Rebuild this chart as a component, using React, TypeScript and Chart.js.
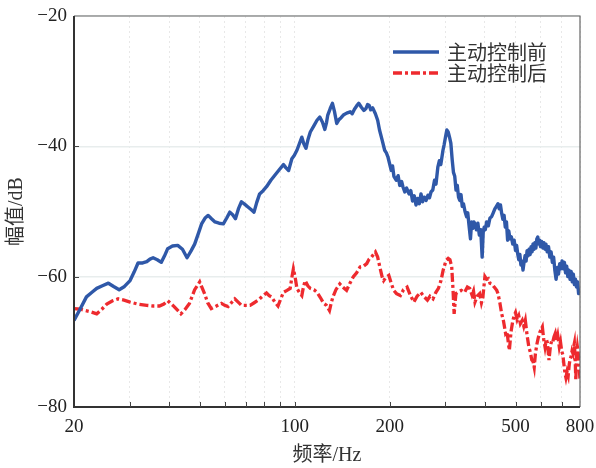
import React, { useEffect, useRef } from "react";
import { Chart, registerables } from "chart.js";

Chart.register(...registerables);

const seriesLabels = ["主动控制前", "主动控制后"];

const freqBefore = [
  20, 20.8, 21.9, 22.8, 23.6, 24.6, 25.7, 26.7, 27.8, 28.9, 30.1, 31.0, 31.9, 33.0, 34.0, 34.8, 35.6, 36.7, 37.8, 38.7,
  39.6, 41.0, 42.6, 44.1, 45.6, 47.0, 48.2, 49.5, 50.7, 52.0, 53.2, 54.5, 55.9, 57.6, 59.4, 60.9, 62.3, 63.6, 64.9, 66.3,
  67.8, 69.5, 71.1, 72.7, 74.3, 75.8, 77.4, 79.4, 81.4, 84.0, 86.6, 89.3, 92.1, 93.8, 95.6, 97.9, 99.6, 101.6, 103.4, 105.3,
  106.8, 108.5, 110.2, 112.0, 114.8, 117.6, 120.0, 122.4, 124.5, 126.0, 127.2, 129.5, 131.6, 133.5, 135.8, 138.0, 140.2, 142.5, 146.0, 149.8,
  152.0, 154.5, 157.0, 159.4, 162.5, 165.5, 168.0, 170.0, 172.0, 174.0, 176.5, 180.0, 183.0, 185.5, 189.0, 192.6, 195.0, 197.2, 199.5, 202.0,
  204.0, 206.0, 209.5, 212.5, 215.0, 218.0, 220.0, 223.0, 226.0, 230.0, 233.0, 236.0, 239.0, 242.0, 245.0, 248.0, 251.0, 254.0, 257.0, 260.5,
  264.0, 267.0, 270.0, 273.5, 277.0, 280.0, 283.8, 287.0, 290.0, 294.6, 297.0, 300.0, 303.0, 306.0, 309.0, 312.0, 315.0, 318.0, 321.0, 324.0,
  327.0, 330.0, 333.0, 336.0, 339.0, 342.0, 346.0, 350.0, 353.0, 356.0, 360.0, 363.0, 366.0, 369.0, 372.0, 376.0, 380.0, 384.0, 388.0, 392.0,
  395.0, 398.0, 401.0, 405.0, 410.0, 415.0, 420.0, 425.0, 430.0, 435.0, 440.0, 444.0, 448.0, 452.0, 456.0, 460.0, 464.0, 468.0, 472.0, 476.0,
  480.0, 485.0, 490.0, 495.0, 500.0, 504.0, 508.0, 512.0, 516.0, 520.0, 524.0, 528.0, 532.0, 536.0, 540.0, 544.0, 548.0, 552.0, 556.0, 560.0,
  564.0, 568.0, 572.0, 576.0, 580.0, 584.0, 588.0, 592.0, 596.0, 600.0, 605.0, 610.0, 615.0, 620.0, 624.0, 630.0, 636.0, 642.0, 648.0, 654.0,
  660.0, 666.0, 672.0, 678.0, 684.0, 690.0, 696.0, 702.0, 708.0, 714.0, 720.0, 726.0, 732.0, 738.0, 744.0, 750.0, 756.0, 762.0, 768.0, 774.0,
  780.0, 786.0, 792.0, 800.0,
];
const dbBefore = [
  -66.7, -65.2, -63.1, -62.4, -61.8, -61.4, -61.0, -61.5, -62.0, -61.5, -60.6, -59.3, -57.9, -57.9, -57.7, -57.3, -57.1, -57.4, -57.8, -56.8,
  -55.7, -55.3, -55.2, -55.8, -57.1, -56.0, -55.0, -53.4, -51.9, -51.0, -50.6, -51.1, -51.6, -51.8, -51.9, -51.0, -50.1, -50.5, -51.1, -49.6,
  -48.5, -48.9, -49.3, -49.7, -50.1, -48.6, -47.3, -46.8, -46.2, -45.2, -44.4, -43.6, -42.8, -43.3, -43.7, -41.9, -41.4, -40.6, -39.6, -38.6,
  -39.6, -40.3, -38.9, -37.8, -36.9, -36.0, -35.5, -36.3, -37.4, -36.4, -35.2, -34.2, -33.4, -34.6, -36.5, -35.9, -35.6, -35.2, -34.9, -34.7,
  -35.0, -34.3, -33.8, -33.4, -34.0, -34.5, -34.2, -33.6, -33.7, -34.4, -34.1, -35.0, -36.0, -37.5, -39.0, -40.6, -41.0, -41.6, -42.6, -43.7,
  -43.0, -44.6, -45.2, -44.5, -46.0, -45.4, -46.2, -47.0, -46.4, -47.3, -46.8, -48.4, -47.6, -49.0, -48.0, -48.8, -47.3, -48.5, -47.8, -48.3,
  -47.5, -47.9, -47.0, -46.7, -45.2, -45.8, -43.2, -42.2, -42.8, -40.6, -39.8, -38.6, -37.5, -37.8, -38.6, -39.5, -42.0, -44.0, -44.6, -46.7,
  -46.0, -47.8, -48.3, -47.4, -49.2, -48.8, -50.0, -50.8, -50.2, -52.0, -54.2, -51.6, -52.6, -51.6, -51.9, -52.8, -51.8, -53.6, -52.8, -57.0,
  -53.2, -52.4, -52.8, -51.6, -52.2, -51.0, -50.8, -50.2, -49.6, -49.2, -48.8, -49.6, -49.0, -50.3, -51.2, -50.6, -52.4, -51.6, -54.4, -53.0,
  -54.2, -53.9, -55.0, -54.4, -56.0, -55.2, -56.5, -57.4, -56.6, -58.2, -57.6, -59.0, -57.8, -56.8, -57.6, -56.0, -56.8, -55.8, -56.6, -55.4,
  -56.2, -55.0, -55.8, -54.8, -55.6, -54.2, -53.9, -55.0, -54.4, -55.4, -54.6, -55.6, -54.8, -55.8, -55.0, -56.2, -55.4, -57.0, -56.2, -57.8,
  -57.0, -59.0, -60.4, -58.6, -59.6, -58.0, -58.8, -57.6, -58.8, -57.8, -59.4, -58.4, -60.0, -59.0, -60.4, -59.2, -60.8, -59.6, -61.2, -60.4,
  -61.6, -60.8, -62.6, -61.8,
];

const freqAfter = [
  20, 21.0, 21.7, 22.6, 23.6, 24.5, 25.4, 26.5, 27.6, 28.8, 30.1, 31.8, 34.0, 35.6, 37.3, 38.5, 39.6, 41.5, 43.6, 45.0,
  46.4, 48.2, 50.0, 51.8, 53.0, 54.4, 56.5, 58.6, 60.0, 61.5, 63.0, 64.6, 66.2, 67.8, 70.0, 72.2, 74.4, 76.6, 79.0, 81.4,
  83.0, 84.4, 86.5, 88.5, 90.3, 92.1, 94.5, 96.7, 98.0, 99.0, 100.2, 101.6, 103.4, 105.3, 106.5, 107.9, 110.0, 112.0, 115.0, 117.6,
  120.5, 123.5, 126.0, 128.8, 130.5, 132.1, 135.0, 138.9, 142.0, 145.9, 149.5, 153.3, 157.0, 161.0, 165.0, 169.0, 172.0, 175.0, 180.0, 183.0,
  186.5, 189.0, 191.2, 194.5, 198.5, 202.0, 205.7, 210.0, 216.0, 221.0, 226.8, 232.0, 238.3, 244.0, 250.4, 256.0, 263.0, 268.0, 274.0, 279.8,
  285.0, 290.4, 295.0, 301.4, 306.0, 310.0, 314.0, 317.0, 319.6, 323.7, 330.0, 337.0, 345.0, 352.0, 358.0, 364.0, 368.0, 372.0, 378.0, 385.0,
  390.0, 394.0, 400.0, 405.0, 410.0, 415.0, 420.0, 428.0, 436.0, 440.0, 446.0, 452.0, 458.0, 465.0, 470.0, 474.0, 478.0, 484.0, 490.0, 495.0,
  500.0, 506.0, 512.0, 518.0, 525.0, 531.0, 537.0, 544.0, 551.0, 557.0, 563.0, 568.0, 573.0, 578.0, 584.0, 590.0, 596.0, 601.0, 608.0, 614.0,
  620.0, 626.0, 631.0, 638.0, 645.0, 651.0, 656.0, 662.0, 668.0, 674.0, 680.0, 688.0, 694.0, 700.0, 706.0, 712.0, 717.0, 722.0, 728.0, 734.0,
  740.0, 745.0, 749.0, 755.0, 760.0, 765.0, 768.0, 772.0, 776.0, 780.0, 785.0, 790.0, 795.0, 800.0,
];
const dbAfter = [
  -64.9, -65.0, -65.2, -65.4, -65.7, -65.0, -64.2, -63.7, -63.4, -63.6, -63.9, -64.2, -64.4, -64.5, -64.5, -64.2, -63.7, -64.6, -65.7, -65.0,
  -64.1, -62.0, -60.8, -62.6, -64.0, -64.9, -64.5, -64.1, -64.4, -64.6, -64.0, -63.4, -63.9, -64.4, -64.4, -64.4, -64.0, -63.6, -63.0, -62.5,
  -62.9, -63.1, -63.9, -64.5, -63.4, -62.4, -62.1, -61.8, -60.0, -58.8, -60.0, -61.8, -62.4, -62.9, -61.6, -60.6, -61.4, -61.8, -62.0, -62.4,
  -63.2, -64.1, -64.4, -65.2, -64.0, -63.1, -62.0, -61.1, -61.6, -62.1, -61.0, -60.0, -59.4, -58.5, -58.4, -58.0, -57.3, -57.0, -56.2, -57.0,
  -58.8, -60.0, -60.6, -60.1, -59.8, -61.0, -62.1, -62.6, -62.9, -62.0, -61.6, -62.8, -63.9, -63.0, -62.4, -63.0, -63.6, -63.0, -63.4, -62.4,
  -61.8, -60.6, -59.0, -57.5, -57.2, -57.4, -58.5, -62.0, -65.7, -62.6, -62.3, -62.1, -62.4, -61.6, -61.8, -62.8, -62.2, -63.9, -63.0, -62.6,
  -64.0, -63.2, -60.0, -60.4, -60.3, -61.0, -61.1, -61.6, -62.1, -62.6, -64.0, -65.7, -66.8, -68.7, -68.4, -70.0, -71.3, -68.4, -66.8, -66.0,
  -65.5, -66.6, -66.0, -67.2, -66.7, -67.6, -66.7, -69.0, -70.8, -71.6, -72.8, -73.0, -73.9, -71.8, -70.4, -69.4, -68.6, -68.2, -67.7, -69.6,
  -70.8, -69.6, -70.2, -72.8, -70.6, -69.8, -70.0, -69.2, -68.7, -69.8, -69.0, -70.8, -70.0, -71.4, -72.0, -73.6, -74.8, -75.5, -74.6, -75.2,
  -73.4, -72.6, -72.3, -71.4, -71.8, -70.6, -70.2, -72.4, -75.9, -72.0, -70.8, -71.8, -73.6, -75.9,
];

const xTickValues = [20, 30, 40, 50, 60, 70, 80, 90, 100, 200, 300, 400, 500, 600, 700, 800];
const xTickLabels = [20, 100, 200, 500, 800];
const yTickValues = [-80, -60, -40, -20];

const blue = "#2f58a8";
const red = "#ee2a2e";
const redDash = [9, 3, 3, 3];
const serif = "'Liberation Serif', 'Noto Sans CJK SC', serif";

const framePlugin = {
  id: "frameAndLegend",
  afterDraw(chart: any) {
    const { ctx, chartArea: a, scales } = chart;
    ctx.save();
    ctx.strokeStyle = "#666";
    ctx.lineWidth = 1.2;
    ctx.beginPath();
    ctx.moveTo(a.left, a.top);
    ctx.lineTo(a.right, a.top);
    ctx.lineTo(a.right, a.bottom);
    ctx.stroke();
    ctx.strokeStyle = "#333";
    ctx.lineWidth = 2;
    ctx.beginPath();
    ctx.moveTo(a.left, a.top);
    ctx.lineTo(a.left, a.bottom);
    ctx.lineTo(a.right, a.bottom);
    ctx.stroke();
    ctx.lineWidth = 1;
    ctx.strokeStyle = "#444";
    ctx.beginPath();
    xTickValues.slice(1, -1).forEach((v) => {
      const x = Math.round(scales.x.getPixelForValue(v)) + 0.5;
      ctx.moveTo(x, a.bottom);
      ctx.lineTo(x, a.bottom - 5);
    });
    yTickValues.slice(1, -1).forEach((v) => {
      const y = Math.round(scales.y.getPixelForValue(v)) + 0.5;
      ctx.moveTo(a.left, y);
      ctx.lineTo(a.left + 5, y);
    });
    ctx.stroke();
    const colors = [blue, red];
    const dashes = [[], redDash];
    const lx0 = a.left + 319;
    const lx1 = a.left + 365;
    seriesLabels.forEach((label, i) => {
      const y = a.top + 36 + i * 21;
      ctx.strokeStyle = colors[i];
      ctx.lineWidth = 3.3;
      ctx.setLineDash(dashes[i]);
      ctx.beginPath();
      ctx.moveTo(lx0, y);
      ctx.lineTo(lx1, y);
      ctx.stroke();
      ctx.setLineDash([]);
      ctx.fillStyle = "#333";
      ctx.font = "20px 'Noto Sans CJK SC'";
      ctx.textBaseline = "middle";
      ctx.textAlign = "left";
      ctx.fillText(label, lx1 + 8, y);
    });
    ctx.restore();
  },
};

export default function App() {
  const ref = useRef<HTMLCanvasElement>(null);
  useEffect(() => {
    if (!ref.current) return;
    const chart = new Chart(ref.current, {
      type: "line",
      data: {
        datasets: [
          {
            label: seriesLabels[0],
            data: freqBefore.map((f, i) => ({ x: f, y: dbBefore[i] })),
            borderColor: blue,
            borderWidth: 3.4,
            pointRadius: 0,
            borderJoinStyle: "round",
            tension: 0,
          },
          {
            label: seriesLabels[1],
            data: freqAfter.map((f, i) => ({ x: f, y: dbAfter[i] })),
            borderColor: red,
            borderWidth: 3.3,
            borderDash: redDash,
            pointRadius: 0,
            tension: 0,
          },
        ],
      },
      options: {
        animation: false,
        responsive: false,
        layout: { padding: { left: 0, right: 16, top: 16, bottom: 0 } },
        plugins: { legend: { display: false }, tooltip: { enabled: false } },
        scales: {
          x: {
            type: "logarithmic",
            min: 20,
            max: 800,
            afterBuildTicks: (s: any) => {
              s.ticks = xTickValues.map((v) => ({ value: v }));
            },
            afterFit: (s: any) => {
              s.height = 61;
              s.paddingLeft = 0;
              s.paddingRight = 0;
            },
            ticks: {
              autoSkip: false,
              maxRotation: 0,
              padding: 9,
              color: "#222",
              font: { family: serif, size: 19 },
              callback: (v: any) => (xTickLabels.includes(Number(v)) ? String(v) : ""),
            },
            grid: { color: "rgba(0,0,0,0.09)", lineWidth: 1, drawTicks: false },
            border: { display: false, dash: [2, 3] },
            title: {
              display: true,
              text: "频率/Hz",
              color: "#333",
              font: { family: serif, size: 20 },
              padding: { top: 0, bottom: 0 },
            },
          },
          y: {
            min: -80,
            max: -20,
            afterBuildTicks: (s: any) => {
              s.ticks = yTickValues.map((v) => ({ value: v }));
            },
            afterFit: (s: any) => {
              s.width = 74;
              s.paddingTop = 0;
              s.paddingBottom = 0;
            },
            ticks: {
              padding: 7,
              color: "#222",
              font: { family: serif, size: 19 },
              callback: (v: any) => String(v).replace("-", "\u2212"),
            },
            grid: { color: "#e8eded", lineWidth: 1.5, drawTicks: false },
            border: { display: false },
            title: {
              display: true,
              text: "幅值/dB",
              color: "#333",
              font: { family: serif, size: 20 },
              padding: { top: 5, bottom: 0 },
            },
          },
        },
      },
      plugins: [framePlugin],
    } as any);
    return () => chart.destroy();
  }, []);
  return (
    <div style={{ position: "fixed", left: 0, top: 0, width: 596, height: 468, background: "#fff" }}>
      <canvas ref={ref} width={596} height={468} style={{ width: 596, height: 468 }} />
    </div>
  );
}
